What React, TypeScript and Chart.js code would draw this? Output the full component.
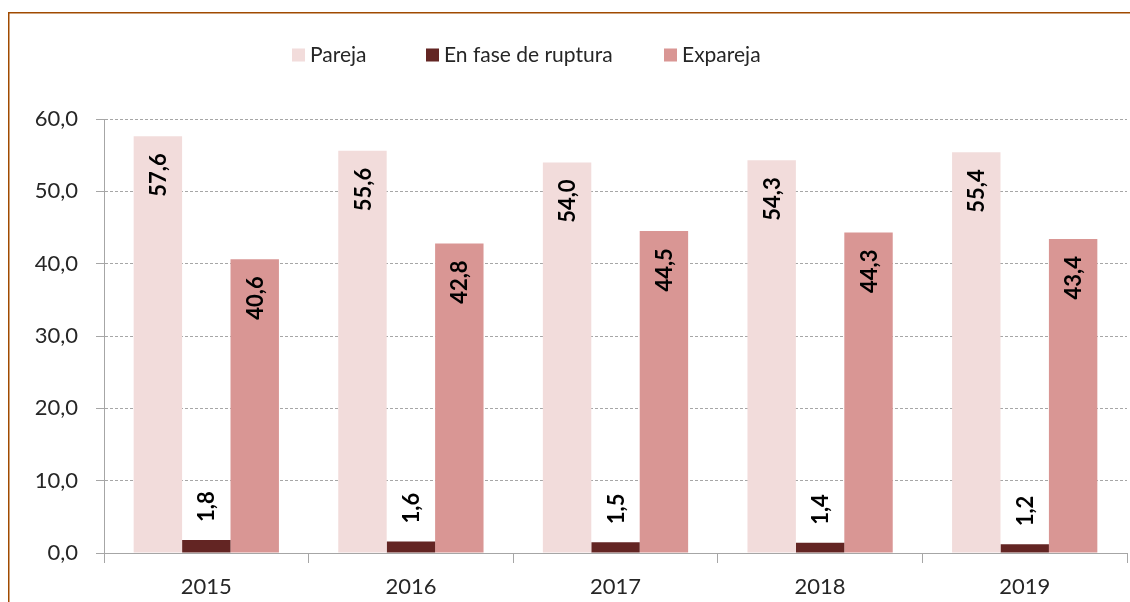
import React, { useEffect, useRef } from "react";
import { Chart, registerables } from "chart.js";

Chart.register(...registerables);

const categories = ["2015", "2016", "2017", "2018", "2019"];
const seriesNames = ["Pareja", "En fase de ruptura", "Expareja"];
const pareja = [57.6, 55.6, 54.0, 54.3, 55.4];
const ruptura = [1.8, 1.6, 1.5, 1.4, 1.2];
const expareja = [40.6, 42.8, 44.5, 44.3, 43.4];
const seriesColors = ["#F2DCDB", "#632523", "#D99694"];
const yMin = 0;
const yMax = 60;
const yStep = 10;

const fmt = (v: number) => v.toFixed(1).replace(".", ",");

const FONT = "Lato, 'Open Sans', sans-serif";
const TEXT = "#262626";
const AXIS = "#A6A6A6";
const LEGEND_X = [292, 426, 664];

const framePlugin = {
  id: "frame",
  afterDraw(chart: any) {
    const ctx = chart.ctx;
    ctx.save();
    ctx.strokeStyle = "#A04A00";
    ctx.lineWidth = 1.5;
    ctx.beginPath();
    ctx.moveTo(8.75, 700);
    ctx.lineTo(8.75, 12.75);
    ctx.lineTo(1200, 12.75);
    ctx.stroke();
    ctx.restore();
  },
};

const legendPlugin = {
  id: "customLegend",
  afterDraw(chart: any) {
    const ctx = chart.ctx;
    ctx.save();
    ctx.font = `21px ${FONT}`;
    const box = 13;
    const gapText = 5;
    const cy = 55;
    ctx.textBaseline = "middle";
    ctx.textAlign = "left";
    chart.data.datasets.forEach((d: any, i: number) => {
      const x = LEGEND_X[i];
      ctx.fillStyle = d.backgroundColor;
      ctx.fillRect(x, cy - box / 2, box, box);
      ctx.fillStyle = TEXT;
      ctx.fillText(d.label, x + box + gapText, cy);
    });
    ctx.restore();
  },
};

const labelPlugin = {
  id: "barLabels",
  afterDatasetsDraw(chart: any) {
    const ctx = chart.ctx;
    ctx.save();
    ctx.font = `bold 22px ${FONT}`;
    ctx.fillStyle = "#000000";
    ctx.textBaseline = "middle";
    chart.data.datasets.forEach((d: any, di: number) => {
      const meta = chart.getDatasetMeta(di);
      meta.data.forEach((bar: any, i: number) => {
        const v = d.data[i];
        const txt = fmt(v);
        const w = ctx.measureText(txt).width;
        const h = bar.base - bar.y;
        ctx.save();
        if (h > w + 34) {
          ctx.translate(bar.x, bar.y + 17);
          ctx.rotate(-Math.PI / 2);
          ctx.textAlign = "right";
        } else {
          ctx.translate(bar.x, bar.y - 18);
          ctx.rotate(-Math.PI / 2);
          ctx.textAlign = "left";
        }
        ctx.fillText(txt, 0, 1);
        ctx.restore();
      });
    });
    ctx.restore();
  },
};

export default function App() {
  const ref = useRef<HTMLCanvasElement | null>(null);

  useEffect(() => {
    if (!ref.current) return;
    const values = [pareja, ruptura, expareja];
    const chart = new Chart(ref.current, {
      type: "bar",
      data: {
        labels: categories,
        datasets: seriesNames.map((name, i) => ({
          label: name,
          data: values[i],
          backgroundColor: seriesColors[i],
          borderWidth: 0,
          barPercentage: 1,
          categoryPercentage: 0.71,
        })),
      },
      options: {
        responsive: false,
        animation: false,
        devicePixelRatio: 1,
        layout: { padding: { top: 119, right: 3, left: 0, bottom: 0 } },
        plugins: {
          legend: { display: false },
          tooltip: { enabled: false },
        },
        scales: {
          x: {
            grid: {
              display: true,
              drawOnChartArea: false,
              drawTicks: true,
              tickLength: 10,
              tickColor: AXIS,
              offset: true,
            },
            border: { color: AXIS, width: 1 },
            ticks: {
              color: TEXT,
              font: { family: FONT, size: 22 },
              padding: 11,
            },
            afterFit: (s: any) => {
              s.height = 49;
            },
          },
          y: {
            min: yMin,
            max: yMax,
            ticks: {
              stepSize: yStep,
              color: TEXT,
              font: { family: FONT, size: 22 },
              padding: 18,
              callback: (v: any) => fmt(Number(v)),
            },
            grid: {
              color: AXIS,
              lineWidth: 1,
              tickLength: 8,
              tickColor: AXIS,
              tickBorderDash: [],
            },
            border: { color: AXIS, width: 1, dash: [3, 2] },
            afterFit: (s: any) => {
              s.width = 104;
            },
          },
        },
      },
      plugins: [labelPlugin, legendPlugin, framePlugin],
    });
    return () => chart.destroy();
  }, []);

  return (
    <div
      style={{
        position: "absolute",
        left: 0,
        top: 0,
        width: 1130,
        height: 602,
        background: "#ffffff",
      }}
    >
      <canvas ref={ref} width={1130} height={602} />
    </div>
  );
}
